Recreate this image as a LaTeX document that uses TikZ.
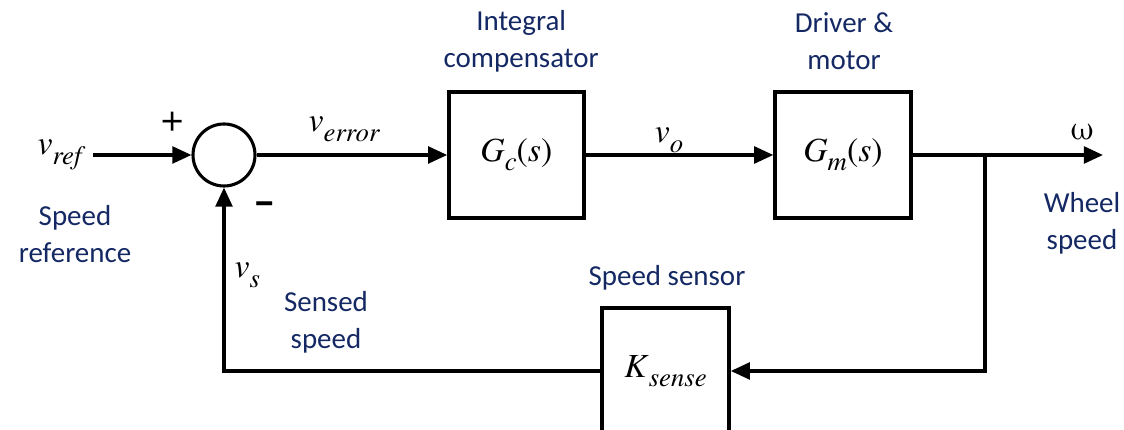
\documentclass[tikz,border=0pt]{standalone}
\usepackage{fontspec}
\setmainfont{Carlito}
\newfontfamily\serifmath{TeX Gyre Termes}
\usetikzlibrary{arrows.meta}
\definecolor{navy}{RGB}{20,40,100}
\newcommand\sig[2]{\textit{#1}\raisebox{-0.28em}{\fontsize{19}{19}\selectfont\textit{#2}}}

\begin{document}
\begin{tikzpicture}[
        line width=2.4pt,
        block/.style={draw, minimum width=3.375cm, minimum height=3.15cm, inner sep=0pt, font=\serifmath\fontsize{24}{28}\selectfont},
        sumnode/.style={circle, draw, line width=2.2pt, minimum size=1.55cm, inner sep=0pt},
        signal/.style={font=\serifmath\fontsize{24}{28}\selectfont, inner sep=0pt},
        caption/.style={text=navy, align=center, inner sep=0pt, font=\fontsize{20.6}{26.3}\selectfont},
        arrow/.style={-{Triangle[length=0.48cm, width=0.42cm]}}
    ]
    \useasboundingbox (0,0) rectangle (28.1,10.75);

    \node[sumnode] (sum) at (5.6,6.875) {};
    \node[block] (gc) at (12.91,6.875) {\sig{G}{c}(\textit{s})};
    \node[block, minimum width=3.4cm] (gm) at (21.075,6.875) {\sig{G}{m}(\textit{s})};
    \node[block, minimum width=3.175cm] (ks) at (16.64,1.475) {\sig{K}{sense}};
    \coordinate (br) at (24.625,6.875);
    \coordinate (out) at (27.575,6.875);

    \node[signal, anchor=east, inner xsep=0.15cm] (vref) at (2.325,6.875) {\sig{v}{ref}};
    \node[signal, anchor=base west] (verr) at (7.675,7.45) {\sig{v}{error}};
    \node[signal, anchor=base west] (vo) at (16.33,7.175) {\sig{v}{o}};
    \node[signal, anchor=base] (w) at (27.05,7.25) {ω};
    \node[signal, anchor=base west] (vs) at (5.825,3.8) {\sig{v}{s}};
    \node[signal, font=\serifmath\fontsize{28}{30}\selectfont] (plus) at (4.325,7.7) {+};
    \node[inner sep=0pt, font=\bfseries\fontsize{32}{32}\selectfont] (minus) at (6.625,5.525) {–};

    \node[caption] (refcap) at (1.875,4.91) {Speed\\reference};
    \node[caption] (gccap) at (13.03,9.725) {Integral\\compensator};
    \node[caption] (gmcap) at (21.1,9.725) {Driver \&\\motor};
    \node[caption] (kscap) at (16.675,3.8) {Speed sensor};
    \node[caption] (outcap) at (27.05,5.175) {Wheel\\speed};
    \node[caption] (vscap) at (8.15,2.7) {Sensed\\speed};

    \draw[arrow] (vref) -- (sum);
    \draw[arrow] (sum) -- (gc);
    \draw[arrow] (gc) -- (gm);
    \draw[arrow] (gm) -- (out);
    \draw[arrow] (br) |- (ks);
    \draw[arrow] (ks) -| (sum);

\end{tikzpicture}
\end{document}
